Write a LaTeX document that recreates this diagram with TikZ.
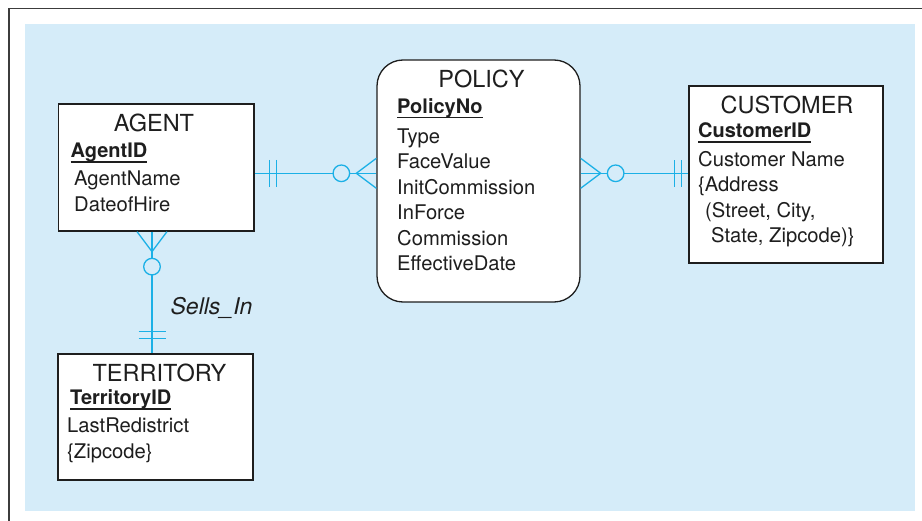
\documentclass[tikz,border=0pt]{standalone}
\usepackage{fontspec}
\setmainfont{TeX Gyre Heros}
\usepackage{tikz}
\usetikzlibrary{positioning}
\definecolor{ink}{HTML}{1E1E1E}
\definecolor{framegray}{HTML}{3C3C3C}
\definecolor{paleblue}{HTML}{D5ECF9}
\definecolor{erblue}{HTML}{1BB0E6}
\newcommand\titlefont{\fontsize{23.5}{27}\selectfont}
\newcommand\attrfont{\fontsize{20.2}{25.5}\selectfont}
\newcommand\keyfont{\fontsize{20}{25.5}\selectfont\bfseries}
\newcommand\relfont{\fontsize{23}{27}\selectfont\itshape}
\newcommand\keyul[1]{\setbox0\hbox{#1}\rlap{\vrule height-3.4pt depth4.8pt width\wd0}\box0}
\tikzset{
  every node/.style={text=ink},
  entity/.style={draw=ink,line width=1.3pt,fill=white,inner sep=0pt},
  title/.style={font=\titlefont,inner sep=0pt,anchor=base},
  % multi-line attribute lists sit on the baseline of their last line
  attr/.style={font=\attrfont,inner sep=0pt,anchor=base west,align=left},
  key/.style={attr,font=\keyfont},
  rel/.style={draw=erblue,line width=1.3pt},
  relname/.style={font=\relfont,inner sep=0pt},
  pics/onebar/.style={code={\draw[rel] (#1,-13.5)--(#1,13.5) (#1+7,-13.5)--(#1+7,13.5);}},
  pics/manyzero/.style={code={\draw[rel] (0,-15)--(20,0)--(0,15); \draw[rel,fill=paleblue] (35,0) circle[radius=8.3];}}
}
\begin{document}
\begin{tikzpicture}[x=1pt,y=-1pt]
  \useasboundingbox (0,0) rectangle (922,521);
  \fill[paleblue] (25,24) rectangle (915,511);
  \draw[framegray,line width=1.4pt] (8.8,521) -- (8.8,8.6) -- (922,8.6);

  % entities
  \node[entity,minimum width=195.5pt,minimum height=127pt] (agent) at (156.25,167.5) {};
  \node[entity,minimum width=203pt,minimum height=242pt,rounded corners=26pt] (policy) at (478.5,181) {};
  \node[entity,minimum width=194pt,minimum height=177pt] (customer) at (786,174.5) {};
  \node[entity,minimum width=195pt,minimum height=126pt] (territory) at (155.5,417) {};

  \node[title] (agent-t) at (154,132) {AGENT};
  \node[key] (agent-k) at (70.5,158) {\keyul{AgentID}};
  \node[attr] (agent-a) at (74,211.5) {AgentName\\DateofHire};

  \node[title] (policy-t) at (481.5,88) {POLICY};
  \node[key] (policy-k) at (397,113.3) {\keyul{PolicyNo}};
  \node[attr] (policy-a) at (397,270.8) {Type\\FaceValue\\InitCommission\\InForce\\Commission\\EffectiveDate};

  \node[title] (customer-t) at (787,114) {CUSTOMER};
  \node[key] (customer-k) at (698,138) {\keyul{CustomerID}};
  \node[attr] (customer-a) at (698,243) {Customer Name\\\{Address\\\hspace*{7pt}(Street, City,\\\hspace*{13pt}State, Zipcode)\}};

  \node[title] (territory-t) at (159.5,382) {TERRITORY};
  \node[key] (territory-k) at (70,405) {\keyul{TerritoryID}};
  \node[attr] (territory-a) at (67,458.5) {LastRedistrict\\\{Zipcode\}};

  % relationships
  \coordinate (rowA) at (0,173.3);
  \coordinate (colA) at (152,0);
  \draw[rel] (agent.east |- rowA) -- (policy.west |- rowA);
  \draw[rel] (policy.east |- rowA) -- (customer.west |- rowA);
  \draw[rel] (agent.south -| colA) -- node[relname,pos=0.63,right=18pt] (sellsin) {Sells\_In} (territory.north -| colA);
  \pic at (agent.east |- rowA) {onebar=15};
  \pic[rotate=180] at (policy.west |- rowA) {manyzero};
  \pic at (policy.east |- rowA) {manyzero};
  \pic[rotate=180] at (customer.west |- rowA) {onebar=7};
  \pic[rotate=-90] at (agent.south -| colA) {manyzero};
  \pic[rotate=90] at (territory.north -| colA) {onebar=15};
\end{tikzpicture}
\end{document}
